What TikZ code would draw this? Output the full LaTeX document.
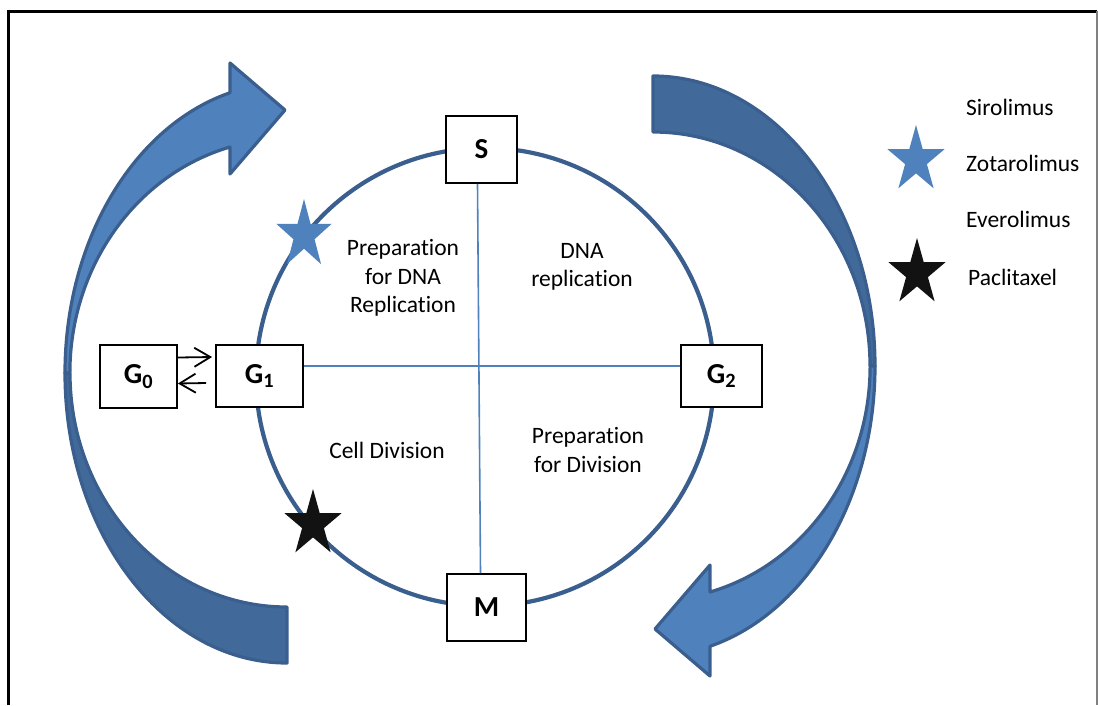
\documentclass[tikz,border=0pt]{standalone}
\usepackage{fontspec}
\setmainfont[Ligatures=NoCommon]{Carlito}
\usepackage{tikz}
\usetikzlibrary{arrows.meta}

\definecolor{ringblue}{HTML}{3A5F8E}
\definecolor{arrowlight}{HTML}{4F81BD}
\definecolor{arrowdark}{HTML}{41699A}
\definecolor{crossblue}{HTML}{4F81BD}
\definecolor{starblue}{HTML}{4F81BD}

\tikzset{
  phasebox/.style={draw=black, line width=1.8pt, fill=white, inner sep=0pt,
    font=\fontsize{29}{34}\selectfont\bfseries},
  phasetext/.style={font=\fontsize{23.5}{28.5}\selectfont, align=center, inner sep=0pt},
  legendtext/.style={font=\fontsize{23.5}{28.5}\selectfont, anchor=west, inner sep=0pt},
  drugstar/.pic={
    \fill[pic actions] (90:1) -- (126:0.382) -- (162:1) -- (198:0.382) -- (234:1)
      -- (270:0.382) -- (306:1) -- (342:0.382) -- (18:1) -- (54:0.382) -- cycle;
  },
  cyclearrow/.pic={
    % back half
    \filldraw[fill=arrowdark, draw=ringblue, line width=3.2pt, line join=round]
      (-222,0) arc[start angle=180, end angle=270, x radius=222, y radius=290]
      -- (0,-234) arc[start angle=270, end angle=180, x radius=217, y radius=234] -- cycle;
    % front half with head
    \filldraw[fill=arrowlight, draw=ringblue, line width=3.2pt, line join=round]
      (-222,0) arc[start angle=180, end angle=104.9, x radius=222, y radius=290]
      -- (-57,310) -- (-2,263) -- (-57,199) -- (-57,226)
      arc[start angle=105.2, end angle=180, x radius=217, y radius=234] -- cycle;
  }
}

\begin{document}
\begin{tikzpicture}[x=1pt, y=1pt]
    \useasboundingbox (0,0) rectangle (1098,-705);
    % Frame
    \draw[line width=3pt] (8,-705) -- (8,-11) -- (1097,-11);
    \draw[gray, line width=1.2pt] (1097,-11) -- (1097,-705);
    % Big arrows
    \pic at (287,-373) {cyclearrow};
    \pic[rotate=180] at (653,-366) {cyclearrow};
    % Cycle
    \node[circle, draw=ringblue, line width=4.2pt, minimum size=458, inner sep=0pt] (ring) at (485,-377) {};
    % Phases
    \node[phasebox, minimum width=71, minimum height=67] (S) at (481.5,-149.5) {S};
    \node[phasebox, minimum width=79, minimum height=67] (M) at (486.5,-607.5) {M};
    \node[phasebox, minimum width=87, minimum height=62] (G1) at (259.5,-376) {G\textsubscript{1}};
    \node[phasebox, minimum width=81, minimum height=62] (G2) at (721.5,-376) {G\textsubscript{2}};
    \node[phasebox, minimum width=77, minimum height=63] (G0) at (138.5,-376.5) {G\textsubscript{0}};
    % Cross
    \draw[crossblue, line width=1.6pt] ([yshift=10pt]G1.east) -- ([yshift=10pt]G2.west);
    \draw[crossblue, line width=1.6pt] ([xshift=-4pt]S.south) -- ([xshift=-6pt]M.north);
    % G0 <-> G1
    \draw[-{Straight Barb[length=16pt, width=19pt]}, line width=1.8pt]
      ([yshift=19pt]G0.east) -- ([xshift=-3pt, yshift=19pt]G1.west);
    \draw[-{Straight Barb[length=16pt, width=19pt]}, line width=1.8pt]
      ([xshift=-9pt, yshift=-7pt]G1.west) -- ([yshift=-7pt]G0.east);
    % Quarter labels
    \node[phasetext] (prepdna) at (403,-278) {Preparation\\for DNA\\Replication};
    \node[phasetext] (dnarep) at (582,-267) {DNA\\replication};
    \node[phasetext] (celldiv) at (387,-450) {Cell Division};
    \node[phasetext] (prepdiv) at (588,-450) {Preparation\\for Division};
    % Stars on the cycle
    \pic[fill=starblue, xscale=29, yscale=36] at (304,-235) {drugstar};
    \pic[fill=black!93, xscale=30, yscale=35] at (313,-524) {drugstar};
    % Legend
    \pic[fill=starblue, xscale=30, yscale=35] at (916,-160) {drugstar};
    \pic[fill=black!93, xscale=30, yscale=35] at (917,-273) {drugstar};
    \node[legendtext] (sir) at (966,-107) {Sirolimus};
    \node[legendtext] (zot) at (966,-163) {Zotarolimus};
    \node[legendtext] (eve) at (966,-219) {Everolimus};
    \node[legendtext] (pac) at (968,-277) {Paclitaxel};
\end{tikzpicture}
\end{document}
